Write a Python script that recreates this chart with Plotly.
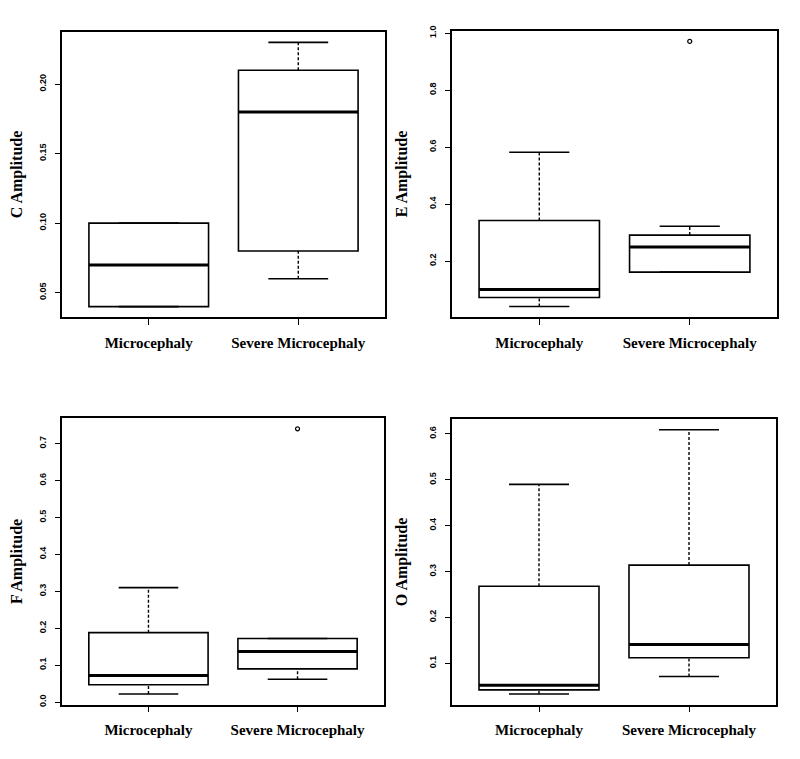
import plotly.graph_objects as go

# ---------------- data ----------------
categories = ["Microcephaly", "Severe Microcephaly"]
positions = [1, 2]

c_q1 = [0.04, 0.08]
c_median = [0.07, 0.18]
c_q3 = [0.10, 0.21]
c_lower = [0.04, 0.06]
c_upper = [0.10, 0.23]
c_outliers = [[], []]

e_q1 = [0.072, 0.161]
e_median = [0.100, 0.249]
e_q3 = [0.342, 0.291]
e_lower = [0.040, 0.161]
e_upper = [0.582, 0.322]
e_outliers = [[], [0.971]]

f_q1 = [0.047, 0.090]
f_median = [0.072, 0.137]
f_q3 = [0.188, 0.172]
f_lower = [0.022, 0.062]
f_upper = [0.310, 0.172]
f_outliers = [[], [0.740]]

o_q1 = [0.042, 0.112]
o_median = [0.052, 0.141]
o_q3 = [0.268, 0.314]
o_lower = [0.033, 0.071]
o_upper = [0.490, 0.609]
o_outliers = [[], []]

c_ticks = [0.05, 0.10, 0.15, 0.20]
c_ticktext = ["0.05", "0.10", "0.15", "0.20"]
e_ticks = [0.2, 0.4, 0.6, 0.8, 1.0]
e_ticktext = ["0.2", "0.4", "0.6", "0.8", "1.0"]
f_ticks = [0.0, 0.1, 0.2, 0.3, 0.4, 0.5, 0.6, 0.7]
f_ticktext = ["0.0", "0.1", "0.2", "0.3", "0.4", "0.5", "0.6", "0.7"]
o_ticks = [0.1, 0.2, 0.3, 0.4, 0.5, 0.6]
o_ticktext = ["0.1", "0.2", "0.3", "0.4", "0.5", "0.6"]

panels = [
    dict(title="C Amplitude", q1=c_q1, med=c_median, q3=c_q3, lo=c_lower, hi=c_upper,
         out=c_outliers, ticks=c_ticks, ticktext=c_ticktext),
    dict(title="E Amplitude", q1=e_q1, med=e_median, q3=e_q3, lo=e_lower, hi=e_upper,
         out=e_outliers, ticks=e_ticks, ticktext=e_ticktext),
    dict(title="F Amplitude", q1=f_q1, med=f_median, q3=f_q3, lo=f_lower, hi=f_upper,
         out=f_outliers, ticks=f_ticks, ticktext=f_ticktext),
    dict(title="O Amplitude", q1=o_q1, med=o_median, q3=o_q3, lo=o_lower, hi=o_upper,
         out=o_outliers, ticks=o_ticks, ticktext=o_ticktext),
]

# ---------------- layout geometry ----------------
W, H = 800, 759
OFF = 8  # default page body margin
# pixel boxes of plot frames on the page: (left, right, top, bottom)
frames = [(62, 385, 27, 315), (452, 777, 26, 315), (62, 384, 417, 706), (452, 776, 418, 706)]

BOXW = 0.8
CAPW = 0.4
SERIF = "Liberation Serif, Times New Roman, serif"
SANS = "Liberation Sans, Arial, sans-serif"

fig = go.Figure()
layout = dict(
    width=W, height=H, margin=dict(l=0, r=0, t=0, b=0),
    paper_bgcolor="white", plot_bgcolor="white", showlegend=False,
)

for i, p in enumerate(panels):
    n = i + 1
    xa = "x" if n == 1 else f"x{n}"
    ya = "y" if n == 1 else f"y{n}"

    # box bodies (no whiskers)
    fig.add_trace(go.Box(
        x=positions, q1=p["q1"], median=p["med"], q3=p["q3"],
        lowerfence=p["q1"], upperfence=p["q3"],
        width=BOXW, whiskerwidth=0, fillcolor="white",
        line=dict(color="black", width=1.6), boxpoints=False,
        xaxis=xa, yaxis=ya, hoverinfo="skip",
    ))

    # dashed whiskers
    wx, wy = [], []
    for pos, q1, q3, lo, hi in zip(positions, p["q1"], p["q3"], p["lo"], p["hi"]):
        if hi > q3:
            wx += [pos, pos, None]
            wy += [q3, hi, None]
        if lo < q1:
            wx += [pos, pos, None]
            wy += [lo, q1, None]
    fig.add_trace(go.Scatter(x=wx, y=wy, mode="lines",
                             line=dict(color="black", width=1.4, dash="3px,2px"),
                             xaxis=xa, yaxis=ya, hoverinfo="skip"))

    # staples
    sx, sy = [], []
    for pos, lo, hi in zip(positions, p["lo"], p["hi"]):
        sx += [pos - CAPW / 2, pos + CAPW / 2, None, pos - CAPW / 2, pos + CAPW / 2, None]
        sy += [hi, hi, None, lo, lo, None]
    fig.add_trace(go.Scatter(x=sx, y=sy, mode="lines",
                             line=dict(color="black", width=1.6),
                             xaxis=xa, yaxis=ya, hoverinfo="skip"))

    # thick medians
    mx, my = [], []
    for pos, m in zip(positions, p["med"]):
        mx += [pos - BOXW / 2, pos + BOXW / 2, None]
        my += [m, m, None]
    fig.add_trace(go.Scatter(x=mx, y=my, mode="lines",
                             line=dict(color="black", width=3),
                             xaxis=xa, yaxis=ya, hoverinfo="skip"))

    # outliers
    ox, oy = [], []
    for pos, outs in zip(positions, p["out"]):
        for v in outs:
            ox.append(pos)
            oy.append(v)
    if ox:
        fig.add_trace(go.Scatter(x=ox, y=oy, mode="markers",
                                 marker=dict(symbol="circle-open", size=4,
                                             color="black", line=dict(width=1.2)),
                                 xaxis=xa, yaxis=ya, hoverinfo="skip"))

    # y range like R (4% padding)
    allv = p["lo"] + p["hi"] + [v for o in p["out"] for v in o]
    vmin, vmax = min(allv), max(allv)
    pad = 0.04 * (vmax - vmin)

    L, R, T, B = [v - OFF for v in frames[i]]
    xkey = "xaxis" if n == 1 else f"xaxis{n}"
    ykey = "yaxis" if n == 1 else f"yaxis{n}"
    layout[xkey] = dict(
        domain=[L / W, R / W], anchor=ya, range=[0.42, 2.58],
        tickmode="array", tickvals=positions, ticktext=categories,
        ticks="outside", ticklen=6, tickwidth=1.2, tickcolor="black",
        showline=True, mirror=True, linecolor="black", linewidth=1.6,
        showgrid=False, zeroline=False, ticklabelstandoff=5,
        tickfont=dict(family=SERIF, size=15, color="black", weight="bold"),
    )
    layout[ykey] = dict(
        domain=[1 - B / H, 1 - T / H], anchor=xa, range=[vmin - pad, vmax + pad],
        tickmode="array", tickvals=p["ticks"], ticktext=p["ticktext"],
        ticks="outside", ticklen=5, tickwidth=1.2, tickcolor="black",
        tickangle=-90, ticklabelstandoff=6,
        showline=True, mirror=True, linecolor="black", linewidth=1.6,
        showgrid=False, zeroline=False,
        tickfont=dict(family=SANS, size=9, color="black", weight="bold"),
        title=dict(text=p["title"], standoff=16,
                   font=dict(family=SERIF, size=16, color="black", weight="bold")),
    )

fig.update_layout(**layout)
fig.write_html("out.html")
